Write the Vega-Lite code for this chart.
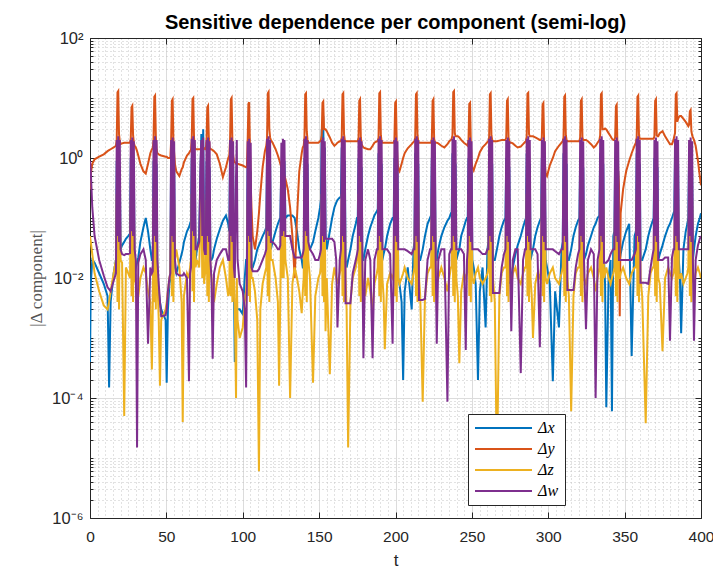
{
"$schema":"https://vega.github.io/schema/vega-lite/v6.json",
"width":611,"height":480,"autosize":"none",
"padding":{"left":90,"top":38,"right":12,"bottom":57},
"background":"white",
"config":{"view":{"stroke":null}},
"title":{"text":"Sensitive dependence per component (semi-log)","font":"Liberation Sans","fontSize":20,"fontWeight":"bold","color":"#000000","anchor":"middle","frame":"group","offset":-3},
"data":{"values":[
{"t":0,"x":0.0004,"y":0.3,"z":0.05,"w":0.9},
{"t":0.5,"x":0.008,"y":0.55,"z":0.04,"w":0.6},
{"t":1.5,"x":0.02,"y":0.8,"z":0.025,"w":0.15},
{"t":3,"x":0.018,"y":0.95,"z":0.012,"w":0.05},
{"t":6,"x":0.012,"y":1.05,"z":0.006,"w":0.02},
{"t":9,"x":0.008,"y":1.15,"z":0.0035,"w":0.011},
{"t":11.5,"x":0.005,"y":1.3,"z":0.003,"w":0.007},
{"t":12.5,"x":0.00015,"y":1.35,"z":0.004,"w":0.0065},
{"t":13.5,"x":0.004,"y":1.4,"z":0.006,"w":0.006},
{"t":15.5,"x":0.012,"y":1.5,"z":0.012,"w":0.009},
{"t":17.0,"x":0.02,"y":1.6,"z":0.02,"w":0.012},
{"t":17.5,"x":0.9,"y":2.0,"z":0.25,"w":2.0},
{"t":18.0,"x":0.03,"y":12.4,"z":0.004,"w":0.05},
{"t":18.5,"x":1.3,"y":13,"z":0.3,"w":2.3},
{"t":19.0,"x":0.02,"y":2.5,"z":0.003,"w":0.04},
{"t":19.5,"x":0.7,"y":1.9,"z":0.2,"w":2.0},
{"t":20.0,"x":0.03,"y":1.7,"z":0.02,"w":0.03},
{"t":21,"x":0.035,"y":1.75,"z":0.018,"w":0.025},
{"t":22.4,"x":0.04,"y":1.8,"z":0.00005,"w":0.024},
{"t":23.5,"x":0.045,"y":1.8,"z":0.015,"w":0.025},
{"t":25,"x":0.05,"y":1.8,"z":0.012,"w":0.025},
{"t":26.2,"x":0.055,"y":1.8,"z":0.01,"w":0.026},
{"t":26.7,"x":1.0,"y":2.1,"z":0.2,"w":2.0},
{"t":27.2,"x":0.04,"y":7.0,"z":0.005,"w":0.06},
{"t":27.7,"x":1.2,"y":7.4,"z":0.25,"w":2.2},
{"t":28.2,"x":0.03,"y":2.4,"z":0.004,"w":0.05},
{"t":28.7,"x":0.8,"y":1.8,"z":0.2,"w":1.9},
{"t":29.2,"x":0.012,"y":1.6,"z":0.01,"w":0.03},
{"t":30,"x":0.015,"y":1.5,"z":0.008,"w":0.02},
{"t":30.8,"x":0.018,"y":1.3,"z":0.006,"w":0.000015},
{"t":31.6,"x":0.022,"y":1.1,"z":0.005,"w":0.018},
{"t":33,"x":0.04,"y":0.8,"z":0.01,"w":0.025},
{"t":35,"x":0.07,"y":0.6,"z":0.015,"w":0.03},
{"t":36.5,"x":0.1,"y":0.55,"z":0.012,"w":0.02},
{"t":38,"x":0.06,"y":0.8,"z":0.006,"w":0.0008},
{"t":39.5,"x":0.03,"y":1.2,"z":0.004,"w":0.015},
{"t":40.5,"x":0.02,"y":1.4,"z":0.0003,"w":0.012},
{"t":41.1,"x":0.02,"y":1.45,"z":0.003,"w":0.013},
{"t":41.6,"x":0.9,"y":2.0,"z":0.22,"w":2.0},
{"t":42.1,"x":0.03,"y":10.5,"z":0.004,"w":0.05},
{"t":42.6,"x":1.4,"y":11,"z":0.3,"w":2.3},
{"t":43.1,"x":0.02,"y":2.3,"z":0.003,"w":0.04},
{"t":43.6,"x":0.8,"y":1.4,"z":0.2,"w":2.0},
{"t":44.1,"x":0.01,"y":1.2,"z":0.01,"w":0.02},
{"t":45,"x":0.006,"y":1.15,"z":0.002,"w":0.008},
{"t":45.8,"x":0.004,"y":1.12,"z":0.00016,"w":0.004},
{"t":46.6,"x":0.003,"y":1.1,"z":0.002,"w":0.0023},
{"t":49.5,"x":0.002,"y":1.05,"z":0.003,"w":0.0024},
{"t":50.2,"x":0.00018,"y":1.05,"z":0.004,"w":0.003},
{"t":51,"x":0.003,"y":1.0,"z":0.006,"w":0.006},
{"t":52.0,"x":0.008,"y":1.0,"z":0.01,"w":0.01},
{"t":52.6,"x":0.01,"y":1.0,"z":0.012,"w":0.012},
{"t":53.1,"x":1.0,"y":1.9,"z":0.2,"w":2.0},
{"t":53.6,"x":0.03,"y":9.0,"z":0.005,"w":0.05},
{"t":54.1,"x":1.3,"y":9.5,"z":0.28,"w":2.2},
{"t":54.6,"x":0.02,"y":2.0,"z":0.004,"w":0.04},
{"t":55.1,"x":0.7,"y":1.2,"z":0.2,"w":1.9},
{"t":55.6,"x":0.015,"y":0.8,"z":0.02,"w":0.02},
{"t":56.5,"x":0.012,"y":0.6,"z":0.03,"w":0.012},
{"t":58.5,"x":0.018,"y":0.5,"z":0.015,"w":0.011},
{"t":60,"x":0.025,"y":0.65,"z":0.004,"w":0.011},
{"t":60.7,"x":0.03,"y":0.7,"z":0.00004,"w":0.011},
{"t":61.5,"x":0.04,"y":0.85,"z":0.005,"w":0.012},
{"t":63.5,"x":0.06,"y":1.1,"z":0.012,"w":0.01},
{"t":64.8,"x":0.07,"y":1.2,"z":0.01,"w":0.00019},
{"t":65.5,"x":0.08,"y":1.3,"z":0.015,"w":0.012},
{"t":66.1,"x":0.09,"y":1.35,"z":0.02,"w":0.015},
{"t":66.6,"x":1.0,"y":2.0,"z":0.25,"w":2.1},
{"t":67.1,"x":0.05,"y":9.6,"z":0.006,"w":0.06},
{"t":67.6,"x":1.5,"y":10,"z":0.3,"w":2.3},
{"t":68.1,"x":0.03,"y":2.2,"z":0.004,"w":0.05},
{"t":68.6,"x":0.8,"y":1.5,"z":0.2,"w":2.0},
{"t":69.1,"x":0.02,"y":1.4,"z":0.015,"w":0.03},
{"t":70,"x":0.03,"y":1.4,"z":0.02,"w":0.03},
{"t":71.5,"x":0.05,"y":1.4,"z":0.015,"w":0.04},
{"t":72.3,"x":0.5,"y":1.4,"z":0.1,"w":0.8},
{"t":72.9,"x":2.5,"y":1.45,"z":0.3,"w":2.0},
{"t":73.5,"x":0.1,"y":1.45,"z":0.01,"w":0.05},
{"t":74.1,"x":3.0,"y":1.5,"z":0.25,"w":2.2},
{"t":74.7,"x":0.05,"y":1.45,"z":0.008,"w":0.03},
{"t":75.3,"x":0.04,"y":1.4,"z":0.012,"w":0.025},
{"t":75.8,"x":0.04,"y":1.4,"z":0.012,"w":0.025},
{"t":76.3,"x":0.9,"y":2.0,"z":0.2,"w":2.0},
{"t":76.8,"x":0.04,"y":7.0,"z":0.005,"w":0.05},
{"t":77.3,"x":1.3,"y":7.4,"z":0.25,"w":2.2},
{"t":77.8,"x":0.03,"y":2.1,"z":0.004,"w":0.04},
{"t":78.3,"x":0.7,"y":1.5,"z":0.2,"w":1.9},
{"t":78.8,"x":0.02,"y":1.4,"z":0.015,"w":0.02},
{"t":79.5,"x":0.02,"y":1.4,"z":0.01,"w":0.01},
{"t":80.3,"x":0.022,"y":1.35,"z":0.006,"w":0.00045},
{"t":81.2,"x":0.03,"y":1.3,"z":0.004,"w":0.012},
{"t":83,"x":0.045,"y":1.15,"z":0.008,"w":0.02},
{"t":85,"x":0.065,"y":0.8,"z":0.015,"w":0.025},
{"t":87,"x":0.09,"y":0.48,"z":0.02,"w":0.03},
{"t":89,"x":0.11,"y":0.7,"z":0.01,"w":0.03},
{"t":90.5,"x":0.08,"y":1.0,"z":0.005,"w":0.02},
{"t":91.2,"x":0.06,"y":1.1,"z":0.006,"w":0.02},
{"t":91.7,"x":1.0,"y":2.0,"z":0.2,"w":2.0},
{"t":92.2,"x":0.04,"y":9.5,"z":0.005,"w":0.05},
{"t":92.7,"x":1.4,"y":10,"z":0.3,"w":2.2},
{"t":93.2,"x":0.03,"y":2.0,"z":0.004,"w":0.04},
{"t":93.7,"x":0.8,"y":1.1,"z":0.2,"w":1.9},
{"t":94.2,"x":0.01,"y":0.9,"z":0.01,"w":0.015},
{"t":94.8,"x":0.0004,"y":0.85,"z":0.003,"w":0.01},
{"t":95.6,"x":0.002,"y":0.8,"z":0.0001,"w":0.5},
{"t":96.1,"x":0.003,"y":0.8,"z":0.01,"w":2.0},
{"t":96.6,"x":0.003,"y":0.8,"z":0.002,"w":0.02},
{"t":98,"x":0.003,"y":0.78,"z":0.001,"w":0.008},
{"t":100,"x":0.0025,"y":0.75,"z":0.0015,"w":0.006},
{"t":101.3,"x":0.01,"y":0.72,"z":0.004,"w":0.003},
{"t":102.2,"x":0.02,"y":0.7,"z":0.006,"w":0.00015},
{"t":102.7,"x":0.02,"y":0.7,"z":0.01,"w":0.01},
{"t":103.2,"x":0.9,"y":1.8,"z":0.2,"w":1.9},
{"t":103.7,"x":0.03,"y":8.0,"z":0.005,"w":0.05},
{"t":104.2,"x":1.2,"y":8.5,"z":0.25,"w":2.1},
{"t":104.7,"x":0.02,"y":1.5,"z":0.004,"w":0.04},
{"t":105.2,"x":0.6,"y":0.4,"z":0.15,"w":1.8},
{"t":105.7,"x":0.015,"y":0.15,"z":0.01,"w":0.015},
{"t":106.5,"x":0.015,"y":0.05,"z":0.01,"w":0.013},
{"t":108,"x":0.02,"y":0.03,"z":0.006,"w":0.013},
{"t":109.5,"x":0.03,"y":0.06,"z":0.002,"w":0.013},
{"t":110.6,"x":0.035,"y":0.12,"z":0.000006,"w":0.014},
{"t":111.5,"x":0.04,"y":0.25,"z":0.003,"w":0.016},
{"t":113,"x":0.05,"y":0.7,"z":0.008,"w":0.02},
{"t":114.5,"x":0.06,"y":1.3,"z":0.012,"w":0.025},
{"t":115.4,"x":0.07,"y":1.6,"z":0.015,"w":0.03},
{"t":115.9,"x":1.0,"y":2.1,"z":0.25,"w":2.1},
{"t":116.4,"x":0.04,"y":12,"z":0.005,"w":0.06},
{"t":116.9,"x":1.5,"y":12.6,"z":0.3,"w":2.3},
{"t":117.4,"x":0.03,"y":3.0,"z":0.004,"w":0.05},
{"t":117.9,"x":0.8,"y":2.2,"z":0.2,"w":2.0},
{"t":118.4,"x":0.03,"y":2.0,"z":0.02,"w":0.04},
{"t":119.5,"x":0.04,"y":1.8,"z":0.02,"w":0.04},
{"t":121.5,"x":0.06,"y":1.4,"z":0.01,"w":0.035},
{"t":123,"x":0.08,"y":1.1,"z":0.004,"w":0.03},
{"t":123.8,"x":0.09,"y":0.95,"z":0.00016,"w":0.03},
{"t":124.6,"x":0.1,"y":0.8,"z":0.005,"w":0.035},
{"t":125.3,"x":0.8,"y":0.7,"z":0.2,"w":1.8},
{"t":125.8,"x":0.05,"y":0.65,"z":0.01,"w":0.05},
{"t":126.3,"x":1.2,"y":0.6,"z":0.25,"w":2.1},
{"t":126.8,"x":0.06,"y":0.55,"z":0.01,"w":0.06},
{"t":127.3,"x":0.9,"y":0.5,"z":0.2,"w":2.0},
{"t":127.9,"x":0.1,"y":0.45,"z":0.02,"w":0.05},
{"t":129.5,"x":0.11,"y":0.3,"z":0.01,"w":0.05},
{"t":131,"x":0.11,"y":0.15,"z":0.0001,"w":0.05},
{"t":132.5,"x":0.11,"y":0.05,"z":0.008,"w":0.03},
{"t":134,"x":0.1,"y":0.01,"z":0.015,"w":0.022},
{"t":135.5,"x":0.06,"y":0.1,"z":0.01,"w":0.022},
{"t":137,"x":0.03,"y":0.6,"z":0.006,"w":0.022},
{"t":138.6,"x":0.02,"y":1.2,"z":0.0026,"w":0.022},
{"t":139.3,"x":0.015,"y":1.5,"z":0.006,"w":0.025},
{"t":139.9,"x":0.015,"y":1.6,"z":0.01,"w":0.03},
{"t":140.4,"x":1.0,"y":2.2,"z":0.25,"w":2.1},
{"t":140.9,"x":0.04,"y":11.5,"z":0.005,"w":0.06},
{"t":141.4,"x":1.4,"y":12,"z":0.3,"w":2.3},
{"t":141.9,"x":0.03,"y":2.8,"z":0.004,"w":0.05},
{"t":142.4,"x":0.8,"y":2.0,"z":0.2,"w":2.0},
{"t":142.9,"x":0.03,"y":1.8,"z":0.02,"w":0.04},
{"t":144,"x":0.03,"y":1.8,"z":0.01,"w":0.03},
{"t":146,"x":0.04,"y":1.8,"z":0.00018,"w":0.025},
{"t":147.5,"x":0.06,"y":1.8,"z":0.005,"w":0.02},
{"t":149.5,"x":0.1,"y":1.8,"z":0.01,"w":0.02},
{"t":150.6,"x":0.15,"y":1.9,"z":0.012,"w":0.025},
{"t":151.2,"x":0.2,"y":2.0,"z":0.015,"w":0.03},
{"t":151.7,"x":3.0,"y":2.4,"z":0.25,"w":2.0},
{"t":152.2,"x":0.1,"y":8.3,"z":0.005,"w":0.05},
{"t":152.7,"x":5.0,"y":8.7,"z":0.3,"w":2.2},
{"t":153.2,"x":0.08,"y":3.0,"z":0.004,"w":0.04},
{"t":153.7,"x":1.5,"y":3.0,"z":0.2,"w":1.9},
{"t":154.2,"x":0.05,"y":3.0,"z":0.0013,"w":0.045},
{"t":155,"x":0.03,"y":2.8,"z":0.01,"w":0.045},
{"t":157,"x":0.06,"y":2.2,"z":0.00025,"w":0.045},
{"t":158.5,"x":0.1,"y":1.8,"z":0.008,"w":0.045},
{"t":160,"x":0.15,"y":1.6,"z":0.015,"w":0.04},
{"t":161.2,"x":0.18,"y":1.7,"z":0.01,"w":0.02},
{"t":162,"x":0.2,"y":1.8,"z":0.008,"w":0.0015},
{"t":163.5,"x":0.22,"y":1.9,"z":0.012,"w":0.02},
{"t":164.3,"x":0.22,"y":1.9,"z":0.015,"w":0.03},
{"t":164.8,"x":1.5,"y":2.2,"z":0.25,"w":2.1},
{"t":165.3,"x":0.06,"y":11.5,"z":0.005,"w":0.05},
{"t":165.8,"x":1.8,"y":12,"z":0.3,"w":2.3},
{"t":166.3,"x":0.04,"y":2.5,"z":0.004,"w":0.04},
{"t":166.8,"x":0.9,"y":2.0,"z":0.2,"w":2.0},
{"t":167.3,"x":0.02,"y":1.9,"z":0.01,"w":0.0038},
{"t":168,"x":0.015,"y":1.9,"z":0.003,"w":0.0038},
{"t":169,"x":0.02,"y":1.9,"z":0.000015,"w":0.0038},
{"t":170.5,"x":0.03,"y":1.9,"z":0.004,"w":0.0038},
{"t":172,"x":0.05,"y":1.9,"z":0.01,"w":0.012},
{"t":174,"x":0.08,"y":1.9,"z":0.015,"w":0.02},
{"t":174.8,"x":0.1,"y":1.9,"z":0.02,"w":0.025},
{"t":175.3,"x":0.1,"y":1.9,"z":0.02,"w":0.03},
{"t":175.8,"x":1.0,"y":2.2,"z":0.25,"w":2.0},
{"t":176.3,"x":0.04,"y":9.0,"z":0.005,"w":0.05},
{"t":176.8,"x":1.4,"y":9.5,"z":0.3,"w":2.2},
{"t":177.3,"x":0.03,"y":2.2,"z":0.004,"w":0.04},
{"t":177.8,"x":0.7,"y":1.7,"z":0.2,"w":1.9},
{"t":178.3,"x":0.02,"y":1.6,"z":0.01,"w":0.02},
{"t":179,"x":0.02,"y":1.5,"z":0.008,"w":0.00046},
{"t":180.2,"x":0.03,"y":1.45,"z":0.005,"w":0.02},
{"t":182,"x":0.05,"y":1.4,"z":0.01,"w":0.03},
{"t":183.5,"x":0.07,"y":1.4,"z":0.006,"w":0.02},
{"t":185,"x":0.09,"y":1.6,"z":0.003,"w":0.00046},
{"t":186.2,"x":0.11,"y":1.8,"z":0.008,"w":0.02},
{"t":187.8,"x":0.13,"y":1.9,"z":0.012,"w":0.03},
{"t":188.4,"x":0.14,"y":1.9,"z":0.015,"w":0.03},
{"t":188.9,"x":1.2,"y":2.2,"z":0.25,"w":2.1},
{"t":189.4,"x":0.05,"y":12,"z":0.005,"w":0.05},
{"t":189.9,"x":1.6,"y":12.5,"z":0.3,"w":2.3},
{"t":190.4,"x":0.03,"y":2.4,"z":0.004,"w":0.04},
{"t":190.9,"x":0.8,"y":1.9,"z":0.2,"w":2.0},
{"t":191.4,"x":0.02,"y":1.8,"z":0.01,"w":0.03},
{"t":192.2,"x":0.025,"y":1.8,"z":0.005,"w":0.03},
{"t":193,"x":0.03,"y":1.8,"z":0.00065,"w":0.03},
{"t":194.5,"x":0.05,"y":1.8,"z":0.008,"w":0.03},
{"t":196.5,"x":0.08,"y":1.8,"z":0.012,"w":0.025},
{"t":198.1,"x":0.1,"y":1.8,"z":0.01,"w":0.0008},
{"t":198.8,"x":0.1,"y":1.8,"z":0.012,"w":0.02},
{"t":199.3,"x":1.0,"y":2.0,"z":0.25,"w":2.0},
{"t":199.8,"x":0.04,"y":8.3,"z":0.005,"w":0.05},
{"t":200.3,"x":1.3,"y":8.7,"z":0.3,"w":2.2},
{"t":200.8,"x":0.03,"y":1.8,"z":0.004,"w":0.04},
{"t":201.3,"x":0.6,"y":0.9,"z":0.2,"w":1.9},
{"t":201.8,"x":0.01,"y":0.65,"z":0.01,"w":0.03},
{"t":202.6,"x":0.008,"y":0.6,"z":0.008,"w":0.03},
{"t":204,"x":0.004,"y":0.8,"z":0.01,"w":0.03},
{"t":205,"x":0.0002,"y":1.0,"z":0.012,"w":0.03},
{"t":206,"x":0.006,"y":1.2,"z":0.015,"w":0.03},
{"t":208,"x":0.015,"y":1.45,"z":0.01,"w":0.028},
{"t":210.6,"x":0.003,"y":1.7,"z":0.008,"w":0.025},
{"t":211.8,"x":0.03,"y":1.85,"z":0.012,"w":0.03},
{"t":212.4,"x":0.04,"y":1.9,"z":0.015,"w":0.03},
{"t":212.9,"x":1.2,"y":2.2,"z":0.25,"w":2.1},
{"t":213.4,"x":0.05,"y":11.5,"z":0.005,"w":0.05},
{"t":213.9,"x":1.6,"y":12,"z":0.3,"w":2.3},
{"t":214.4,"x":0.03,"y":2.4,"z":0.004,"w":0.04},
{"t":214.9,"x":0.8,"y":1.9,"z":0.2,"w":2.0},
{"t":215.4,"x":0.02,"y":1.8,"z":0.01,"w":0.0043},
{"t":216.2,"x":0.02,"y":1.8,"z":0.005,"w":0.0043},
{"t":217.8,"x":0.03,"y":1.8,"z":0.000087,"w":0.0043},
{"t":219.3,"x":0.05,"y":1.8,"z":0.005,"w":0.0045},
{"t":221,"x":0.08,"y":1.8,"z":0.012,"w":0.02},
{"t":222.6,"x":0.1,"y":1.8,"z":0.015,"w":0.03},
{"t":223.3,"x":0.11,"y":1.8,"z":0.015,"w":0.03},
{"t":223.8,"x":1.0,"y":2.1,"z":0.25,"w":2.0},
{"t":224.3,"x":0.04,"y":9.0,"z":0.005,"w":0.05},
{"t":224.8,"x":1.4,"y":9.5,"z":0.3,"w":2.2},
{"t":225.3,"x":0.03,"y":2.1,"z":0.004,"w":0.04},
{"t":225.8,"x":0.7,"y":1.8,"z":0.2,"w":1.9},
{"t":226.3,"x":0.02,"y":1.8,"z":0.01,"w":0.02},
{"t":227,"x":0.02,"y":1.8,"z":0.008,"w":0.0008},
{"t":228,"x":0.03,"y":1.75,"z":0.01,"w":0.02},
{"t":230,"x":0.05,"y":1.6,"z":0.015,"w":0.03},
{"t":232,"x":0.07,"y":1.5,"z":0.01,"w":0.03},
{"t":234,"x":0.09,"y":1.7,"z":0.006,"w":0.000087},
{"t":235.2,"x":0.1,"y":1.9,"z":0.01,"w":0.025},
{"t":236.3,"x":0.12,"y":2.0,"z":0.015,"w":0.03},
{"t":236.8,"x":0.12,"y":2.1,"z":0.015,"w":0.03},
{"t":237.3,"x":1.2,"y":2.4,"z":0.25,"w":2.1},
{"t":237.8,"x":0.05,"y":12.5,"z":0.005,"w":0.05},
{"t":238.3,"x":1.6,"y":13,"z":0.3,"w":2.3},
{"t":238.8,"x":0.03,"y":2.6,"z":0.004,"w":0.04},
{"t":239.3,"x":0.8,"y":2.3,"z":0.2,"w":2.0},
{"t":239.8,"x":0.02,"y":2.3,"z":0.01,"w":0.03},
{"t":240.8,"x":0.025,"y":2.3,"z":0.005,"w":0.03},
{"t":241.8,"x":0.03,"y":2.2,"z":0.00038,"w":0.03},
{"t":243,"x":0.05,"y":2.0,"z":0.006,"w":0.03},
{"t":244.8,"x":0.07,"y":1.8,"z":0.012,"w":0.025},
{"t":246,"x":0.09,"y":1.7,"z":0.01,"w":0.00063},
{"t":246.8,"x":0.1,"y":1.65,"z":0.012,"w":0.02},
{"t":247.3,"x":0.1,"y":1.6,"z":0.015,"w":0.03},
{"t":247.8,"x":1.0,"y":2.0,"z":0.25,"w":2.0},
{"t":248.3,"x":0.04,"y":8.0,"z":0.005,"w":0.05},
{"t":248.8,"x":1.3,"y":8.3,"z":0.3,"w":2.2},
{"t":249.3,"x":0.03,"y":1.8,"z":0.004,"w":0.04},
{"t":249.8,"x":0.6,"y":0.9,"z":0.2,"w":1.9},
{"t":250.3,"x":0.02,"y":0.7,"z":0.01,"w":0.03},
{"t":251.2,"x":0.015,"y":0.62,"z":0.008,"w":0.03},
{"t":252.5,"x":0.008,"y":0.8,"z":0.012,"w":0.03},
{"t":254,"x":0.0002,"y":1.0,"z":0.015,"w":0.03},
{"t":255.2,"x":0.006,"y":1.25,"z":0.01,"w":0.028},
{"t":257,"x":0.015,"y":1.5,"z":0.008,"w":0.025},
{"t":259,"x":0.0015,"y":1.7,"z":0.01,"w":0.025},
{"t":260.2,"x":0.03,"y":1.85,"z":0.012,"w":0.03},
{"t":260.8,"x":0.04,"y":1.9,"z":0.015,"w":0.03},
{"t":261.3,"x":1.2,"y":2.2,"z":0.25,"w":2.1},
{"t":261.8,"x":0.05,"y":11.5,"z":0.005,"w":0.05},
{"t":262.3,"x":1.6,"y":12,"z":0.3,"w":2.3},
{"t":262.8,"x":0.03,"y":2.4,"z":0.004,"w":0.04},
{"t":263.3,"x":0.8,"y":2.0,"z":0.2,"w":2.0},
{"t":263.8,"x":0.02,"y":1.9,"z":0.01,"w":0.0056},
{"t":265,"x":0.02,"y":1.9,"z":0.004,"w":0.0056},
{"t":266.4,"x":0.03,"y":1.9,"z":0.000006,"w":0.0056},
{"t":268,"x":0.05,"y":1.95,"z":0.005,"w":0.0056},
{"t":269.5,"x":0.07,"y":2.0,"z":0.012,"w":0.015},
{"t":271,"x":0.09,"y":2.0,"z":0.015,"w":0.025},
{"t":272.0,"x":0.1,"y":2.0,"z":0.015,"w":0.03},
{"t":272.5,"x":1.0,"y":2.2,"z":0.25,"w":2.0},
{"t":273.0,"x":0.04,"y":9.0,"z":0.005,"w":0.05},
{"t":273.5,"x":1.4,"y":9.5,"z":0.3,"w":2.2},
{"t":274.0,"x":0.03,"y":2.2,"z":0.004,"w":0.04},
{"t":274.5,"x":0.7,"y":1.9,"z":0.2,"w":1.9},
{"t":275.0,"x":0.008,"y":1.8,"z":0.01,"w":0.02},
{"t":275.8,"x":0.01,"y":1.8,"z":0.008,"w":0.0013},
{"t":276.8,"x":0.015,"y":1.75,"z":0.012,"w":0.02},
{"t":278.5,"x":0.025,"y":1.6,"z":0.015,"w":0.03},
{"t":280,"x":0.035,"y":1.5,"z":0.01,"w":0.03},
{"t":282,"x":0.05,"y":1.55,"z":0.008,"w":0.00026},
{"t":283.5,"x":0.07,"y":1.7,"z":0.012,"w":0.02},
{"t":284.8,"x":0.09,"y":1.85,"z":0.015,"w":0.03},
{"t":285.4,"x":0.1,"y":1.9,"z":0.015,"w":0.03},
{"t":285.9,"x":1.2,"y":2.3,"z":0.25,"w":2.1},
{"t":286.4,"x":0.05,"y":11.8,"z":0.005,"w":0.05},
{"t":286.9,"x":1.6,"y":12.2,"z":0.3,"w":2.3},
{"t":287.4,"x":0.03,"y":2.5,"z":0.004,"w":0.04},
{"t":287.9,"x":0.8,"y":2.3,"z":0.2,"w":2.0},
{"t":288.4,"x":0.02,"y":2.3,"z":0.01,"w":0.03},
{"t":289.2,"x":0.025,"y":2.3,"z":0.005,"w":0.03},
{"t":290,"x":0.03,"y":2.3,"z":0.001,"w":0.03},
{"t":291.5,"x":0.05,"y":2.2,"z":0.008,"w":0.03},
{"t":293,"x":0.07,"y":2.1,"z":0.012,"w":0.025},
{"t":294.5,"x":0.09,"y":2.0,"z":0.01,"w":0.0007},
{"t":295.3,"x":0.1,"y":2.0,"z":0.015,"w":0.02},
{"t":295.8,"x":1.0,"y":2.2,"z":0.25,"w":2.0},
{"t":296.3,"x":0.04,"y":7.8,"z":0.005,"w":0.05},
{"t":296.8,"x":1.3,"y":8.2,"z":0.3,"w":2.2},
{"t":297.3,"x":0.03,"y":1.8,"z":0.004,"w":0.04},
{"t":297.8,"x":0.6,"y":0.8,"z":0.2,"w":1.9},
{"t":298.3,"x":0.02,"y":0.55,"z":0.01,"w":0.03},
{"t":299.2,"x":0.015,"y":0.5,"z":0.008,"w":0.03},
{"t":301,"x":0.008,"y":0.75,"z":0.012,"w":0.03},
{"t":303,"x":0.00019,"y":1.0,"z":0.015,"w":0.03},
{"t":304.5,"x":0.006,"y":1.3,"z":0.01,"w":0.028},
{"t":307,"x":0.0015,"y":1.6,"z":0.008,"w":0.025},
{"t":308.7,"x":0.03,"y":1.8,"z":0.012,"w":0.03},
{"t":309.5,"x":0.04,"y":1.9,"z":0.015,"w":0.03},
{"t":310.0,"x":1.2,"y":2.2,"z":0.25,"w":2.1},
{"t":310.5,"x":0.05,"y":10.5,"z":0.005,"w":0.05},
{"t":311.0,"x":1.6,"y":11,"z":0.3,"w":2.3},
{"t":311.5,"x":0.03,"y":2.4,"z":0.004,"w":0.04},
{"t":312.0,"x":0.8,"y":2.0,"z":0.2,"w":2.0},
{"t":312.5,"x":0.02,"y":1.9,"z":0.01,"w":0.0063},
{"t":313.5,"x":0.02,"y":1.9,"z":0.005,"w":0.0063},
{"t":315,"x":0.03,"y":1.9,"z":0.00006,"w":0.0063},
{"t":316.5,"x":0.05,"y":1.9,"z":0.005,"w":0.0063},
{"t":318,"x":0.07,"y":1.9,"z":0.012,"w":0.015},
{"t":319.5,"x":0.09,"y":1.9,"z":0.015,"w":0.025},
{"t":320.4,"x":0.1,"y":1.9,"z":0.015,"w":0.03},
{"t":320.9,"x":1.0,"y":2.2,"z":0.25,"w":2.0},
{"t":321.4,"x":0.04,"y":9.0,"z":0.005,"w":0.05},
{"t":321.9,"x":1.4,"y":9.5,"z":0.3,"w":2.2},
{"t":322.4,"x":0.03,"y":2.2,"z":0.004,"w":0.04},
{"t":322.9,"x":0.7,"y":2.0,"z":0.2,"w":1.9},
{"t":323.4,"x":0.02,"y":2.0,"z":0.01,"w":0.02},
{"t":324.7,"x":0.025,"y":2.0,"z":0.008,"w":0.0014},
{"t":326,"x":0.035,"y":1.9,"z":0.012,"w":0.02},
{"t":328,"x":0.05,"y":1.7,"z":0.015,"w":0.03},
{"t":329.8,"x":0.07,"y":1.5,"z":0.01,"w":0.025},
{"t":331,"x":0.08,"y":1.6,"z":0.006,"w":0.0001},
{"t":332.3,"x":0.1,"y":1.8,"z":0.01,"w":0.02},
{"t":333.5,"x":0.11,"y":2.0,"z":0.015,"w":0.03},
{"t":334.0,"x":1.2,"y":2.4,"z":0.25,"w":2.1},
{"t":334.5,"x":0.05,"y":11.5,"z":0.005,"w":0.05},
{"t":335.0,"x":1.6,"y":12,"z":0.3,"w":2.3},
{"t":335.5,"x":0.03,"y":3.0,"z":0.004,"w":0.04},
{"t":336.0,"x":0.8,"y":3.0,"z":0.2,"w":2.0},
{"t":336.5,"x":0.02,"y":3.0,"z":0.01,"w":0.018},
{"t":337.2,"x":0.008,"y":3.1,"z":0.012,"w":0.018},
{"t":338,"x":0.00007,"y":3.0,"z":0.015,"w":0.018},
{"t":339.5,"x":0.01,"y":2.6,"z":0.01,"w":0.02},
{"t":340.8,"x":0.02,"y":2.3,"z":0.008,"w":0.025},
{"t":341.7,"x":0.00006,"y":2.1,"z":0.01,"w":0.028},
{"t":342.6,"x":0.05,"y":2.0,"z":0.012,"w":0.03},
{"t":343.3,"x":0.06,"y":2.0,"z":0.015,"w":0.03},
{"t":343.8,"x":1.0,"y":2.2,"z":0.25,"w":2.0},
{"t":344.3,"x":0.04,"y":7.3,"z":0.005,"w":0.05},
{"t":344.8,"x":1.3,"y":7.7,"z":0.3,"w":2.2},
{"t":345.3,"x":0.03,"y":1.5,"z":0.004,"w":0.04},
{"t":345.8,"x":0.6,"y":0.6,"z":0.2,"w":1.9},
{"t":346.3,"x":0.02,"y":0.35,"z":0.01,"w":0.02},
{"t":346.8,"x":0.02,"y":0.0023,"z":0.01,"w":0.02},
{"t":347.4,"x":0.025,"y":0.12,"z":0.012,"w":0.02},
{"t":349,"x":0.04,"y":0.3,"z":0.015,"w":0.02},
{"t":351,"x":0.06,"y":0.6,"z":0.01,"w":0.02},
{"t":353,"x":0.08,"y":0.9,"z":0.008,"w":0.02},
{"t":354.6,"x":0.0005,"y":1.2,"z":0.012,"w":0.02},
{"t":356.5,"x":0.05,"y":1.6,"z":0.015,"w":0.025},
{"t":357.4,"x":0.06,"y":1.8,"z":0.015,"w":0.03},
{"t":357.9,"x":1.2,"y":2.2,"z":0.25,"w":2.1},
{"t":358.4,"x":0.05,"y":10.5,"z":0.005,"w":0.05},
{"t":358.9,"x":1.6,"y":11,"z":0.3,"w":2.3},
{"t":359.4,"x":0.03,"y":2.4,"z":0.004,"w":0.04},
{"t":359.9,"x":0.8,"y":2.1,"z":0.2,"w":2.0},
{"t":360.4,"x":0.02,"y":2.1,"z":0.01,"w":0.0083},
{"t":361.5,"x":0.02,"y":2.1,"z":0.005,"w":0.0083},
{"t":363.8,"x":0.03,"y":2.1,"z":0.000038,"w":0.0083},
{"t":365.5,"x":0.05,"y":2.1,"z":0.005,"w":0.008},
{"t":367,"x":0.07,"y":2.1,"z":0.012,"w":0.015},
{"t":368.4,"x":0.09,"y":2.1,"z":0.015,"w":0.025},
{"t":369.0,"x":0.1,"y":2.1,"z":0.015,"w":0.03},
{"t":369.5,"x":1.0,"y":2.3,"z":0.25,"w":2.0},
{"t":370.0,"x":0.04,"y":9.0,"z":0.005,"w":0.05},
{"t":370.5,"x":1.4,"y":9.5,"z":0.3,"w":2.2},
{"t":371.0,"x":0.03,"y":2.4,"z":0.004,"w":0.04},
{"t":371.5,"x":0.7,"y":2.3,"z":0.2,"w":1.9},
{"t":372.0,"x":0.02,"y":2.3,"z":0.01,"w":0.02},
{"t":373,"x":0.025,"y":2.6,"z":0.008,"w":0.02},
{"t":374.8,"x":0.035,"y":2.8,"z":0.0006,"w":0.02},
{"t":376.5,"x":0.05,"y":2.3,"z":0.01,"w":0.022},
{"t":378.5,"x":0.07,"y":1.9,"z":0.015,"w":0.022},
{"t":379.7,"x":0.08,"y":1.7,"z":0.012,"w":0.0009},
{"t":381,"x":0.1,"y":1.7,"z":0.01,"w":0.022},
{"t":382.0,"x":0.12,"y":2.0,"z":0.012,"w":0.03},
{"t":382.5,"x":0.13,"y":2.3,"z":0.015,"w":0.03},
{"t":383.0,"x":1.2,"y":2.6,"z":0.25,"w":2.1},
{"t":383.5,"x":0.05,"y":11.5,"z":0.005,"w":0.05},
{"t":384.0,"x":1.6,"y":12,"z":0.3,"w":2.3},
{"t":384.5,"x":0.03,"y":4.0,"z":0.004,"w":0.04},
{"t":385.0,"x":0.8,"y":4.5,"z":0.2,"w":2.0},
{"t":385.5,"x":0.02,"y":4.8,"z":0.01,"w":0.03},
{"t":386.2,"x":0.01,"y":5.0,"z":0.01,"w":0.03},
{"t":387,"x":0.0012,"y":5.0,"z":0.012,"w":0.03},
{"t":388.5,"x":0.03,"y":4.5,"z":0.008,"w":0.03},
{"t":390,"x":0.06,"y":4.0,"z":0.01,"w":0.03},
{"t":391.1,"x":0.08,"y":3.6,"z":0.012,"w":0.03},
{"t":391.7,"x":0.1,"y":3.4,"z":0.015,"w":0.03},
{"t":392.2,"x":1.0,"y":3.6,"z":0.25,"w":2.0},
{"t":392.7,"x":0.04,"y":6.0,"z":0.005,"w":0.05},
{"t":393.2,"x":1.3,"y":6.3,"z":0.3,"w":2.2},
{"t":393.7,"x":0.03,"y":2.8,"z":0.004,"w":0.04},
{"t":394.2,"x":0.6,"y":2.4,"z":0.2,"w":1.9},
{"t":394.7,"x":0.02,"y":2.2,"z":0.01,"w":0.02},
{"t":395.4,"x":0.03,"y":2.0,"z":0.008,"w":0.0009},
{"t":396.5,"x":0.05,"y":1.6,"z":0.012,"w":0.02},
{"t":398,"x":0.08,"y":0.9,"z":0.015,"w":0.035},
{"t":399.2,"x":0.1,"y":0.5,"z":0.012,"w":0.045},
{"t":400,"x":0.12,"y":0.35,"z":0.01,"w":0.05}
]},
"transform":[{"fold":["x","y","z","w"],"as":["s","v"]}],
"layer":[
{"mark":{"type":"line","strokeWidth":2,"clip":true,"interpolate":"linear"},
"encoding":{
"x":{"field":"t","type":"quantitative","scale":{"domain":[0,400],"nice":false,"zero":false},
"axis":{"orient":"bottom","title":"t","titleFont":"Liberation Sans","titleFontSize":17,"titleFontWeight":"normal","titleColor":"#262626","titlePadding":2,
"values":[0,5,10,15,20,25,30,35,40,45,50,55,60,65,70,75,80,85,90,95,100,105,110,115,120,125,130,135,140,145,150,155,160,165,170,175,180,185,190,195,200,205,210,215,220,225,230,235,240,245,250,255,260,265,270,275,280,285,290,295,300,305,310,315,320,325,330,335,340,345,350,355,360,365,370,375,380,385,390,395,400],
"labelExpr":"datum.value % 50 === 0 ? datum.label : ''","labelOverlap":false,"labelFont":"Liberation Sans","labelFontSize":15.5,"labelColor":"#262626","labelPadding":17,"labelFlush":false,
"grid":true,
"gridColor":{"condition":{"test":"datum.value % 50 === 0","value":"#dcdcdc"},"value":"#c4c4c4"},
"gridDash":{"condition":{"test":"datum.value % 50 === 0","value":[]},"value":[1,3]},
"gridWidth":1,
"ticks":true,"tickColor":"#262626",
"tickSize":{"condition":{"test":"datum.value % 50 === 0","value":-6},"value":0},
"domain":true,"domainColor":"#262626","domainWidth":1}},
"y":{"field":"v","type":"quantitative","scale":{"type":"log","domain":[0.000001,100],"nice":false},
"axis":{"orient":"left","title":"|Δ component|","titleFont":"Liberation Serif","titleFontSize":17,"titleFontWeight":"normal","titleColor":"#555555","titlePadding":6,
"values":[0.000001,0.000002,0.000003,0.000004,0.000005,0.000006,0.000007,0.000008,0.000009,0.00001,0.00002,0.00003,0.00004,0.00005,0.00006,0.00007,0.00008,0.00009,0.0001,0.0002,0.0003,0.0004,0.0005,0.0006,0.0007,0.0008,0.0009,0.001,0.002,0.003,0.004,0.005,0.006,0.007,0.008,0.009,0.01,0.02,0.03,0.04,0.05,0.06,0.07,0.08,0.09,0.1,0.2,0.3,0.4,0.5,0.6,0.7,0.8,0.9,1,2,3,4,5,6,7,8,9,10,20,30,40,50,60,70,80,90,100],
"labelExpr":"datum.value == 100 ? '10²' : datum.value == 1 ? '10⁰' : datum.value == 0.01 ? '10⁻²' : datum.value == 0.0001 ? '10⁻⁴' : datum.value == 0.000001 ? '10⁻⁶' : ''",
"labelOverlap":false,"labelFont":"Liberation Sans","labelFontSize":16.5,"labelColor":"#262626","labelPadding":13,"labelFlush":false,
"grid":true,
"gridColor":{"condition":{"test":"indexof([0.000001,0.0001,0.01,1,100], datum.value) >= 0","value":"#dcdcdc"},"value":"#c4c4c4"},
"gridDash":{"condition":{"test":"indexof([0.000001,0.0001,0.01,1,100], datum.value) >= 0","value":[]},"value":[1,3]},
"ticks":true,"tickColor":"#262626",
"tickSize":{"condition":{"test":"indexof([0.000001,0.0001,0.01,1,100], datum.value) >= 0","value":-6},"value":-3},
"domain":true,"domainColor":"#262626","domainWidth":1}},
"color":{"field":"s","type":"nominal","scale":{"domain":["x","y","z","w"],"range":["#0072BD","#D95319","#EDB120","#7E2F8E"]},
"legend":{"orient":"none","legendX":378,"legendY":376,"title":null,"fillColor":"white","strokeColor":"#262626","padding":6,"symbolType":"stroke","symbolSize":3249,"symbolStrokeWidth":2,"labelFont":"Liberation Serif","labelFontSize":16,"labelFontStyle":"italic","labelColor":"#000000","labelExpr":"'Δ' + datum.label","rowPadding":5,"clipHeight":16,"labelOffset":5,"symbolOpacity":1,"cornerRadius":0}}
}},
{"mark":{"type":"point","opacity":0},
"encoding":{
"x":{"field":"t","type":"quantitative","scale":{"domain":[0,400],"nice":false,"zero":false},
"axis":{"orient":"top","title":null,"labels":false,"grid":false,"values":[0,50,100,150,200,250,300,350,400],"ticks":true,"tickColor":"#262626","tickSize":-6,"domain":true,"domainColor":"#262626","domainWidth":1}},
"y":{"field":"v","type":"quantitative","scale":{"type":"log","domain":[0.000001,100],"nice":false},
"axis":{"orient":"right","title":null,"labels":false,"grid":false,
"values":[0.000001,0.000002,0.000003,0.000004,0.000005,0.000006,0.000007,0.000008,0.000009,0.00001,0.00002,0.00003,0.00004,0.00005,0.00006,0.00007,0.00008,0.00009,0.0001,0.0002,0.0003,0.0004,0.0005,0.0006,0.0007,0.0008,0.0009,0.001,0.002,0.003,0.004,0.005,0.006,0.007,0.008,0.009,0.01,0.02,0.03,0.04,0.05,0.06,0.07,0.08,0.09,0.1,0.2,0.3,0.4,0.5,0.6,0.7,0.8,0.9,1,2,3,4,5,6,7,8,9,10,20,30,40,50,60,70,80,90,100],
"ticks":true,"tickColor":"#262626",
"tickSize":{"condition":{"test":"indexof([0.000001,0.0001,0.01,1,100], datum.value) >= 0","value":-6},"value":-3},
"domain":true,"domainColor":"#262626","domainWidth":1}}
}}
],
"resolve":{"axis":{"x":"independent","y":"independent"}}
}
